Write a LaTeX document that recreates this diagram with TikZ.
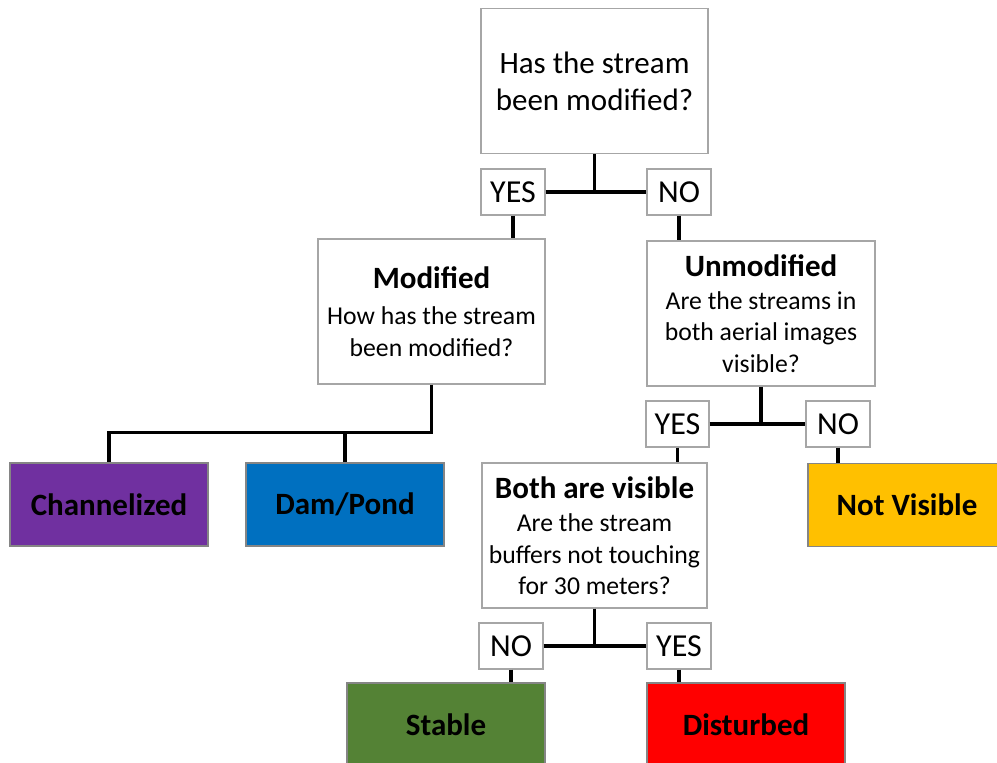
\documentclass[tikz,border=0pt]{standalone}
\usepackage{fontspec}
\setmainfont{Carlito}
\definecolor{cpurple}{HTML}{7030A0}
\definecolor{cblue}{HTML}{0070C0}
\definecolor{cgold}{HTML}{FFC000}
\definecolor{cgreen}{HTML}{548235}
\definecolor{cred}{HTML}{FF0000}
\definecolor{bordergray}{HTML}{A6A6A6}
\begin{document}
\begin{tikzpicture}[x=1pt,y=-1pt,
  qbox/.style={draw=bordergray,line width=1.3pt,fill=white,rectangle,inner sep=0pt,
    minimum width=227pt,minimum height=145pt,align=center,
    font=\fontsize{25.7}{31.5}\selectfont},
  lbl/.style={draw=bordergray,line width=1.3pt,fill=white,rectangle,inner sep=0pt,
    minimum width=64pt,minimum height=46pt,font=\fontsize{32}{38}\selectfont},
  outbox/.style={draw=bordergray!80!black,line width=1.3pt,rectangle,inner sep=0pt,
    minimum width=198pt,minimum height=83pt,font=\fontsize{31}{37}\selectfont\bfseries},
  conn/.style={line width=3.2pt,black}]
\useasboundingbox (0,0) rectangle (997,763);
\fill[white] (0,0) rectangle (997,763);
\newcommand{\hd}{\fontsize{31}{34}\selectfont\bfseries}

\node[qbox,font=\fontsize{31}{37}\selectfont] (top) at (594.5,81) {Has the stream\\been modified?};
\node[lbl] (yes1) at (513,192) {YES};
\node[lbl] (no1) at (679,192) {NO};
\node[qbox] (mod) at (431.5,311.5) {{\hd Modified}\\[5pt]How has the stream\\been modified?};
\node[qbox,minimum width=228pt] (unmod) at (761,313.5) {{\hd Unmodified}\\[1pt]Are the streams in\\both aerial images\\visible?};
\node[outbox,fill=cpurple] (chan) at (109,504.5) {Channelized};
\node[outbox,fill=cblue] (dam) at (345,504.5) {Dam/Pond};
\node[lbl,minimum width=63pt] (yes2) at (677.5,424) {YES};
\node[lbl] (no2) at (838,424) {NO};
\node[qbox,minimum width=225pt] (both) at (594.5,535.5) {{\hd Both are visible}\\[2pt]Are the stream\\buffers not touching\\for 30 meters?};
\node[outbox,fill=cgold] (notvis) at (907,505) {Not Visible};
\node[lbl] (no3) at (511,646) {NO};
\node[lbl] (yes3) at (679,646) {YES};
\node[outbox,fill=cgreen] (stable) at (446,724.5) {Stable};
\node[outbox,fill=cred] (dist) at (746,724.5) {Disturbed};

% connectors
\draw[conn] (top.south) -- (top.south |- yes1.east);
\draw[conn] (yes1.east) -- (no1.west);
\draw[conn] (yes1.south) -- (yes1.south |- mod.north);
\draw[conn] (no1.south) -- (no1.south |- unmod.north);

\coordinate (j1) at ([yshift=-48pt]mod.south);
\draw[conn] (mod.south) -- (j1) -- (j1 -| chan.north) -- (chan.north);
\draw[conn] (j1 -| dam.north) -- (dam.north);

\draw[conn] (unmod.south) -- (unmod.south |- yes2.east);
\draw[conn] (yes2.east) -- (no2.west);
\draw[conn] (yes2.south) -- (yes2.south |- both.north);
\draw[conn] (no2.south) -- (no2.south |- notvis.north);

\draw[conn] (both.south) -- (both.south |- no3.east);
\draw[conn] (no3.east) -- (yes3.west);
\draw[conn] (no3.south) -- (no3.south |- stable.north);
\draw[conn] (yes3.south) -- (yes3.south |- dist.north);
\end{tikzpicture}
\end{document}
